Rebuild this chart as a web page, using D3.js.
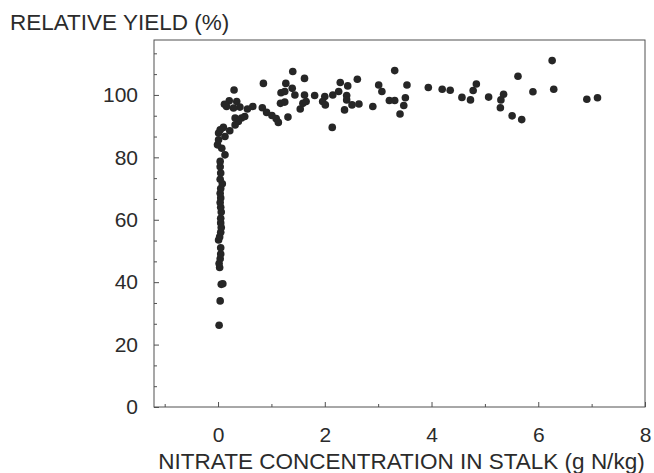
<!DOCTYPE html>
<html>
<head>
<meta charset="utf-8">
<script src="https://cdn.jsdelivr.net/npm/d3@7"></script>
<style>
  body { margin: 0; background: #fff; }
  svg text { font-family: "Liberation Sans", Arial, sans-serif; fill: #2b2b2b; }
</style>
</head>
<body>
<div id="chart"></div>
<script>
// Nitrate in stalk (g N/kg) and relative yield (%)
const nitrate = [
  0.02, 0.04, 0.06, 0.09, 0.03, 0.02, 0.04, 0.05, 0.05,
  0.01, 0.03, 0.05, 0.06, 0.05, 0.05, 0.06, 0.05, 0.04, 0.05,
  0.04, 0.05, 0.08, 0.04, 0.05, 0.04, 0.04, 0.13, 0.07, -0.01,
  0.01, 0.13, 0.01, 0.04, 0.22, 0.10,
  0.30, 0.21, 0.16, 0.35, 0.41, 0.29, 0.65, 0.32, 0.44, 0.50,
  0.38, 0.32, 0.12, 0.55,
  0.85, 0.83, 0.91, 1.01, 1.09, 1.13, 1.31, 1.17, 1.25, 1.18,
  1.25, 1.27, 1.39, 1.40, 1.62, 1.44, 1.62, 1.54, 1.59, 1.65,
  1.81, 2.00, 1.96, 2.01, 2.14, 2.15, 2.26, 2.29, 2.43, 2.61,
  2.41, 2.41, 2.51, 2.64, 2.37, 2.90, 3.01, 3.07, 3.31, 3.21,
  3.31, 3.54, 3.51, 3.48, 3.41, 3.94, 4.20, 4.35, 4.57, 4.73,
  4.78, 4.84, 5.07, 5.35, 5.30, 5.29, 5.51, 5.69, 5.62, 5.90,
  6.26, 6.29, 6.91, 7.11
];
const relYield = [
  26.2, 34.0, 39.3, 39.5, 44.7, 46.0, 47.5, 49.0, 51.0,
  53.5, 54.5, 56.0, 57.5, 59.0, 60.5, 62.5, 64.0, 65.5, 67.0,
  68.5, 70.0, 71.5, 73.0, 75.0, 77.0, 78.7, 80.8, 82.9, 84.0,
  85.6, 86.7, 87.8, 88.8, 88.5, 89.6,
  101.6, 98.1, 96.3, 97.9, 96.1, 95.8, 96.3, 92.6, 92.6, 93.1,
  91.5, 90.4, 97.0, 95.5,
  103.7, 95.9, 94.4, 93.4, 92.4, 91.2, 92.9, 97.3, 97.7, 100.7,
  101.1, 103.7, 102.1, 107.5, 105.3, 100.0, 100.0, 95.5, 97.3, 97.9,
  99.8, 99.5, 97.9, 96.8, 89.6, 100.0, 101.1, 104.0, 102.9, 105.0,
  99.8, 98.4, 96.8, 97.1, 95.2, 96.3, 103.2, 101.1, 107.8, 98.2,
  98.2, 103.2, 99.1, 96.6, 93.9, 102.4, 101.8, 101.5, 99.2, 98.4,
  101.4, 103.5, 99.3, 100.2, 98.4, 95.9, 93.3, 92.1, 106.0, 101.0,
  111.0, 101.8, 98.6, 99.1
];

const xMajorTicks = [0, 2, 4, 6, 8];
const xMinorTicks = [-1, 1, 3, 5, 7];
const yMajorTicks = [0, 20, 40, 60, 80, 100];
const yMinorTicks = [20 / 3, 40 / 3, 80 / 3, 100 / 3, 140 / 3, 160 / 3,
  200 / 3, 220 / 3, 260 / 3, 280 / 3, 320 / 3, 340 / 3];

const xTitle = "NITRATE CONCENTRATION IN STALK (g N/kg)";
const yTitle = "RELATIVE YIELD (%)";

const width = 654, height = 473;
const margin = { top: 40, right: 9, bottom: 66, left: 154 };

const svg = d3.select("#chart").append("svg")
  .attr("width", width)
  .attr("height", height);

const x = d3.scaleLinear()
  .domain([-1.2, 8])
  .range([margin.left, width - margin.right]);
const y = d3.scaleLinear()
  .domain([0, 117.6])
  .range([height - margin.bottom, margin.top]);

const axisColor = "#505050";

// bottom axis, ticks pointing inward
svg.append("g")
  .attr("transform", `translate(0,${y(0)})`)
  .call(d3.axisBottom(x).tickValues(xMajorTicks).tickSize(-5).tickPadding(20).tickSizeOuter(0));
svg.append("g")
  .attr("transform", `translate(0,${y(0)})`)
  .call(d3.axisBottom(x).tickValues(xMinorTicks).tickSize(-3).tickFormat("").tickSizeOuter(0));

svg.append("g")
  .attr("transform", `translate(${x.range()[0]},0)`)
  .call(d3.axisLeft(y).tickValues(yMajorTicks).tickSize(-5).tickPadding(16).tickSizeOuter(0));
svg.append("g")
  .attr("transform", `translate(${x.range()[0]},0)`)
  .call(d3.axisLeft(y).tickValues(yMinorTicks).tickSize(-3).tickFormat("").tickSizeOuter(0));

svg.selectAll(".domain").remove();
svg.selectAll(".tick line").attr("stroke", axisColor);
svg.selectAll(".tick text")
  .style("font-size", "21px")
  .attr("fill", "#2b2b2b");

// frame
svg.append("rect")
  .attr("x", x.range()[0])
  .attr("y", y.range()[1])
  .attr("width", x.range()[1] - x.range()[0])
  .attr("height", y.range()[0] - y.range()[1])
  .attr("fill", "none")
  .attr("stroke", axisColor)
  .attr("stroke-width", 1);

const points = nitrate.map((d, i) => [d, relYield[i]]);

svg.append("g")
  .selectAll("circle")
  .data(points)
  .join("circle")
  .attr("cx", (d) => x(d[0]))
  .attr("cy", (d) => y(d[1]))
  .attr("r", 3.8)
  .attr("fill", "#262626");

svg.append("text")
  .attr("x", 10)
  .attr("y", 30)
  .style("font-size", "22.5px")
  .text(yTitle);

svg.append("text")
  .attr("x", (x.range()[0] + x.range()[1]) / 2 + 2)
  .attr("y", 469)
  .attr("text-anchor", "middle")
  .style("font-size", "22.5px")
  .text(xTitle);
</script>
</body>
</html>
